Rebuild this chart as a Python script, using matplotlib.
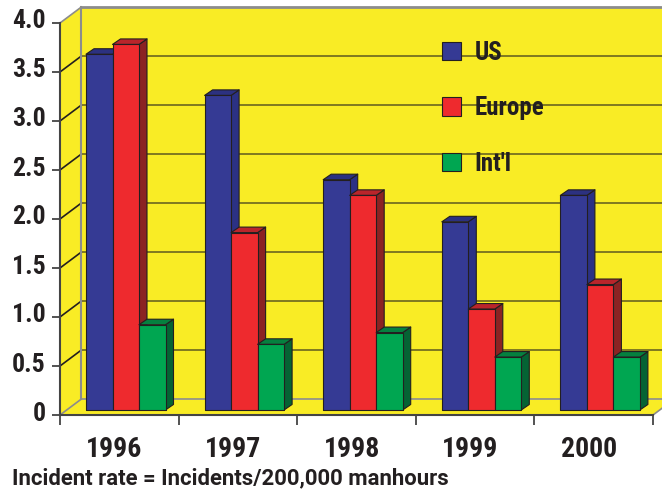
"""Incident rate by region, 1996-2000, drawn as an oblique pseudo-3D bar chart."""

import matplotlib
matplotlib.use("Agg")
import matplotlib.pyplot as plt
from matplotlib.patches import Patch, Polygon
from matplotlib.transforms import ScaledTranslation

plt.rcParams["font.family"] = ["Roboto Condensed", "Barlow Condensed", "DejaVu Sans"]
plt.rcParams["font.weight"] = "bold"

YEARS = ["1996", "1997", "1998", "1999", "2000"]
US = [3.63, 3.21, 2.35, 1.92, 2.19]
EUROPE = [3.73, 1.81, 2.19, 1.03, 1.28]
INTL = [0.87, 0.67, 0.79, 0.54, 0.54]
Y_TICKS = [0, 0.5, 1.0, 1.5, 2.0, 2.5, 3.0, 3.5, 4.0]
Y_LABELS = ["0", "0.5", "1.0", "1.5", "2.0", "2.5", "3.0", "3.5", "4.0"]

YELLOW = "#f9ec25"
INK = "#231f20"
GREY = "#8c8c8c"
OLIVE = "#6b6520"
SERIES = [
    ("US", US, "#353a94", "#2c3180", "#2b3184"),
    ("Europe", EUROPE, "#ee2a2e", "#b9252b", "#8b2323"),
    ("Int'l", INTL, "#00a651", "#05803f", "#056334"),
]

# oblique offsets, in data units
WALL_DX, WALL_DY = 21 / 118.6, 15.7 / 98
BAR_DX, BAR_DY = 8 / 118.6, 5.5 / 98
BAR_SHIFT = 0.32
BAR_W = 26.5 / 118.6
GROUP_START = 26 / 118.6


def poly(ax, pts, face, edge="none", lw=0, z=1):
    ax.add_patch(Polygon(pts, closed=True, facecolor=face, edgecolor=edge,
                         linewidth=lw, zorder=z, clip_on=False, joinstyle="round"))


def main():
    fig = plt.figure(figsize=(6.62, 4.9), dpi=100, facecolor="white")
    ax = fig.add_axes([60 / 662, 75 / 490, 593 / 662, 392 / 490])
    ax.set_xlim(0, 5)
    ax.set_ylim(0, 4)
    ax.patch.set_visible(False)

    top = Y_TICKS[-1]
    xmax = len(YEARS)

    # left wall, floor, back wall
    poly(ax, [(0, 0), (WALL_DX, WALL_DY), (WALL_DX, top + WALL_DY), (0, top)], YELLOW)
    poly(ax, [(0, 0), (xmax, 0), (xmax + WALL_DX, WALL_DY), (WALL_DX, WALL_DY)], YELLOW)
    poly(ax, [(WALL_DX, WALL_DY), (xmax + WALL_DX, WALL_DY),
              (xmax + WALL_DX, top + WALL_DY), (WALL_DX, top + WALL_DY)], YELLOW)

    for v in Y_TICKS:
        back = v + WALL_DY
        edge_line = v in (Y_TICKS[0], Y_TICKS[-1])
        ax.plot([WALL_DX, xmax + WALL_DX], [back, back],
                color=GREY if edge_line else OLIVE, lw=2 if v == top else 1.2,
                clip_on=False, zorder=2)
        ax.plot([0, WALL_DX], [v, back], color=GREY if edge_line else INK,
                lw=1.2, clip_on=False, zorder=2)
    ax.plot([WALL_DX, WALL_DX], [WALL_DY, top + WALL_DY], color=GREY, lw=1.5,
            clip_on=False, zorder=2)
    ax.plot([xmax, xmax + WALL_DX], [0, WALL_DY], color=GREY, lw=1.2,
            clip_on=False, zorder=2)

    # bars, left to right so each one covers the side of the previous
    y0 = BAR_SHIFT * WALL_DY
    z = 3
    for i in range(len(YEARS)):
        for s, (_, vals, front, top_c, side) in enumerate(SERIES):
            x0 = i + GROUP_START + s * BAR_W
            x1 = x0 + BAR_W
            h = y0 + vals[i]
            poly(ax, [(x1, y0), (x1 + BAR_DX, y0 + BAR_DY), (x1 + BAR_DX, h + BAR_DY),
                      (x1, h)], side, INK, 0.8, z)
            poly(ax, [(x0, h), (x1, h), (x1 + BAR_DX, h + BAR_DY),
                      (x0 + BAR_DX, h + BAR_DY)], top_c, INK, 0.8, z)
            poly(ax, [(x0, y0), (x1, y0), (x1, h), (x0, h)], front, INK, 0.8, z + 0.5)
            z += 1

    # axes
    for s in ("top", "right"):
        ax.spines[s].set_visible(False)
    for s in ("left", "bottom"):
        ax.spines[s].set_color("#444444")
        ax.spines[s].set_linewidth(1.5)
        ax.spines[s].set_zorder(50)
    ax.set_yticks(Y_TICKS)
    ax.set_yticklabels(Y_LABELS, fontsize=18.5, color=INK)
    ax.tick_params(axis="y", length=6, width=1.3, color="#444444", pad=4.5)
    # the printed labels sit a little above their ticks
    nudge = ScaledTranslation(0, 4 / 100, fig.dpi_scale_trans)
    for lab in ax.get_yticklabels():
        lab.set_transform(lab.get_transform() + nudge)
    ax.set_xticks(range(xmax + 1))
    ax.set_xticklabels([])
    ax.tick_params(axis="x", which="major", length=7, width=1.3, color="#444444")
    ax.set_xticks([i + 0.46 for i in range(xmax)], minor=True)
    ax.set_xticklabels(YEARS, minor=True, fontsize=20, color=INK)
    ax.tick_params(axis="x", which="minor", length=0, pad=15)

    handles = [Patch(facecolor=c[2], edgecolor=INK, linewidth=0.8, label=c[0]) for c in SERIES]
    leg = ax.legend(handles=handles, loc="upper left", bbox_to_anchor=(0.644, 0.955),
                    frameon=False, prop={"size": 18, "weight": "bold"},
                    handlelength=0.765, handleheight=0.765, handletextpad=0.55,
                    labelspacing=1.26, borderpad=0, borderaxespad=0)
    leg.set_zorder(60)
    for t in leg.get_texts():
        t.set_color(INK)

    fig.text(12 / 662, 1 - 478 / 490, "Incident rate = Incidents/200,000 manhours",
             fontsize=15.9, color=INK, ha="left", va="center",
             family=["Roboto", "DejaVu Sans"])

    fig.savefig("out.png", dpi=100, facecolor="white")


if __name__ == "__main__":
    main()
